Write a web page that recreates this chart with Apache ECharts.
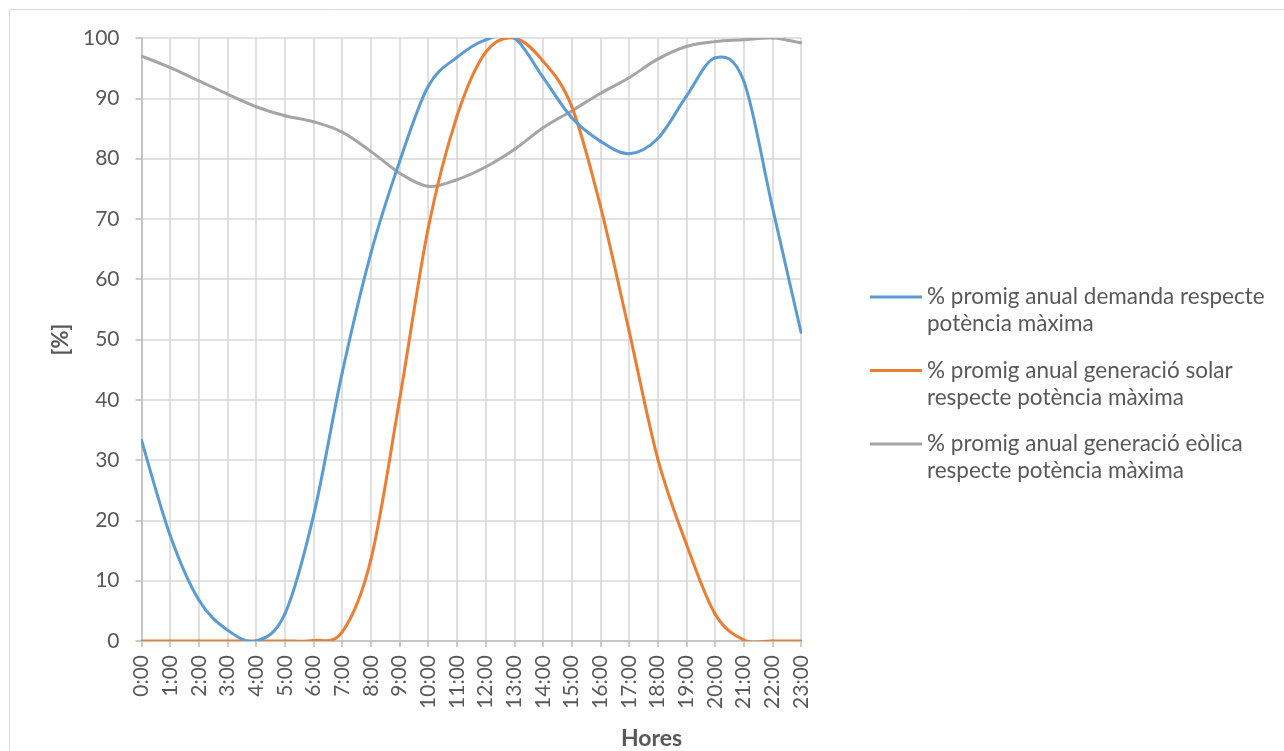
<!DOCTYPE html>
<html>
<head>
<meta charset="utf-8">
<script src="https://cdn.jsdelivr.net/npm/echarts@6/dist/echarts.min.js"></script>
<style>
  html, body { margin: 0; padding: 0; background: #ffffff; }
  #chart { width: 1284px; height: 751px; }
</style>
</head>
<body>
<div id="chart"></div>
<script>
// Hourly categories
const hours = ['0:00','1:00','2:00','3:00','4:00','5:00','6:00','7:00','8:00','9:00','10:00','11:00',
               '12:00','13:00','14:00','15:00','16:00','17:00','18:00','19:00','20:00','21:00','22:00','23:00'];

// Average yearly share of maximum power, per hour [%]
const demanda = [33.3, 17.5, 6.8, 1.8, 0, 4.5, 20.8, 44.5, 64.3, 79.5, 92, 96.8,
                 99.7, 100, 93.5, 86.8, 82.9, 80.8, 83.3, 90.3, 96.7, 92.9, 72, 51.2];
const solar   = [0, 0, 0, 0, 0, 0, 0.1, 1.5, 13.5, 40, 68.5, 87,
                 97.6, 100, 96.2, 88.7, 72.2, 51.5, 30.3, 16.1, 4.5, 0.2, 0, 0];
const eolica  = [97, 95.1, 92.9, 90.7, 88.6, 87.1, 86.1, 84.4, 81.2, 77.6, 75.4, 76.5,
                 78.6, 81.5, 85.1, 87.9, 90.8, 93.4, 96.5, 98.6, 99.4, 99.7, 100, 99.2];

const seriesNames = [
  '% promig anual demanda respecte\npotència màxima',
  '% promig anual generació solar\nrespecte potència màxima',
  '% promig anual generació eòlica\nrespecte potència màxima'
];
const seriesColors = ['#5B9BD5', '#ED7D31', '#A5A5A5'];
const seriesData = [demanda, solar, eolica];

const FONT = 'Lato, "Open Sans", sans-serif';
const TEXT = '#595959';

// Smoothed line drawn as Catmull-Rom Bezier segments between neighbouring hours.
function smoothSegment(values, color) {
  return function (params, api) {
    const i = params.dataIndex;
    if (i >= values.length - 1) return null;
    const n = values.length;
    const p = k => {
      const j = Math.max(0, Math.min(n - 1, k));
      return api.coord([j, values[j]]);
    };
    const p0 = p(i - 1), p1 = p(i), p2 = p(i + 1), p3 = p(i + 2);
    const c1 = [p1[0] + (p2[0] - p0[0]) / 6, p1[1] + (p2[1] - p0[1]) / 6];
    const c2 = [p2[0] - (p3[0] - p1[0]) / 6, p2[1] - (p3[1] - p1[1]) / 6];
    return {
      type: 'bezierCurve',
      shape: { x1: p1[0], y1: p1[1], x2: p2[0], y2: p2[1],
               cpx1: c1[0], cpy1: c1[1], cpx2: c2[0], cpy2: c2[1] },
      style: { stroke: color, lineWidth: 3, fill: 'none', lineCap: 'round' },
      silent: true
    };
  };
}

const chart = echarts.init(document.getElementById('chart'), null, { renderer: 'canvas' });

chart.setOption({
  backgroundColor: '#ffffff',
  animation: false,
  grid: { left: 141.5, right: 483, top: 38, bottom: 110 },
  graphic: [
    {
      type: 'rect',
      shape: { x: 9.5, y: 9.5, width: 1400, height: 900 },
      style: { fill: 'none', stroke: '#d9d9d9', lineWidth: 1 },
      silent: true, z: -10
    },
    {
      type: 'text',
      x: 651.5, y: 739,
      style: { text: 'Hores', font: 'bold 23px ' + FONT, fill: TEXT, align: 'center', verticalAlign: 'middle' },
      silent: true
    }
  ],
  legend: {
    orient: 'vertical',
    left: 865,
    top: 251.5,
    icon: 'rect',
    itemWidth: 52,
    itemHeight: 3,
    itemGap: -7.5,
    data: seriesNames,
    formatter: name => '\n' + name,
    textStyle: {
      color: TEXT,
      fontFamily: FONT,
      fontSize: 22.5,
      lineHeight: 27
    }
  },
  xAxis: {
    type: 'category',
    data: hours,
    boundaryGap: false,
    axisLine: { lineStyle: { color: '#bfbfbf', width: 1.6 } },
    axisTick: { show: true, length: 6, lineStyle: { color: '#bfbfbf', width: 1.6 } },
    axisLabel: {
      rotate: 90, margin: 14, interval: 0,
      color: TEXT, fontFamily: FONT, fontSize: 21
    },
    splitLine: { show: true, lineStyle: { color: '#d9d9d9', width: 1.6 } }
  },
  yAxis: {
    type: 'value',
    min: 0, max: 100, interval: 10,
    name: '[%]',
    nameLocation: 'middle',
    nameGap: 70,
    nameRotate: 90,
    nameTextStyle: { color: TEXT, fontFamily: FONT, fontSize: 22, fontWeight: 'bold' },
    axisLine: { show: true, lineStyle: { color: '#bfbfbf', width: 1.6 } },
    axisTick: { show: true, length: 6, lineStyle: { color: '#bfbfbf', width: 1.6 } },
    axisLabel: { margin: 22, color: TEXT, fontFamily: FONT, fontSize: 21 },
    splitLine: { show: true, lineStyle: { color: '#d9d9d9', width: 1.6 } }
  },
  series: seriesNames.map((name, i) => ({
    name: name,
    type: 'custom',
    coordinateSystem: 'cartesian2d',
    data: seriesData[i].map((v, k) => [k, v]),
    encode: { x: 0, y: 1 },
    renderItem: smoothSegment(seriesData[i], seriesColors[i]),
    itemStyle: { color: seriesColors[i] },
    clip: true,
    z: 3 - i
  }))
});
</script>
</body>
</html>
